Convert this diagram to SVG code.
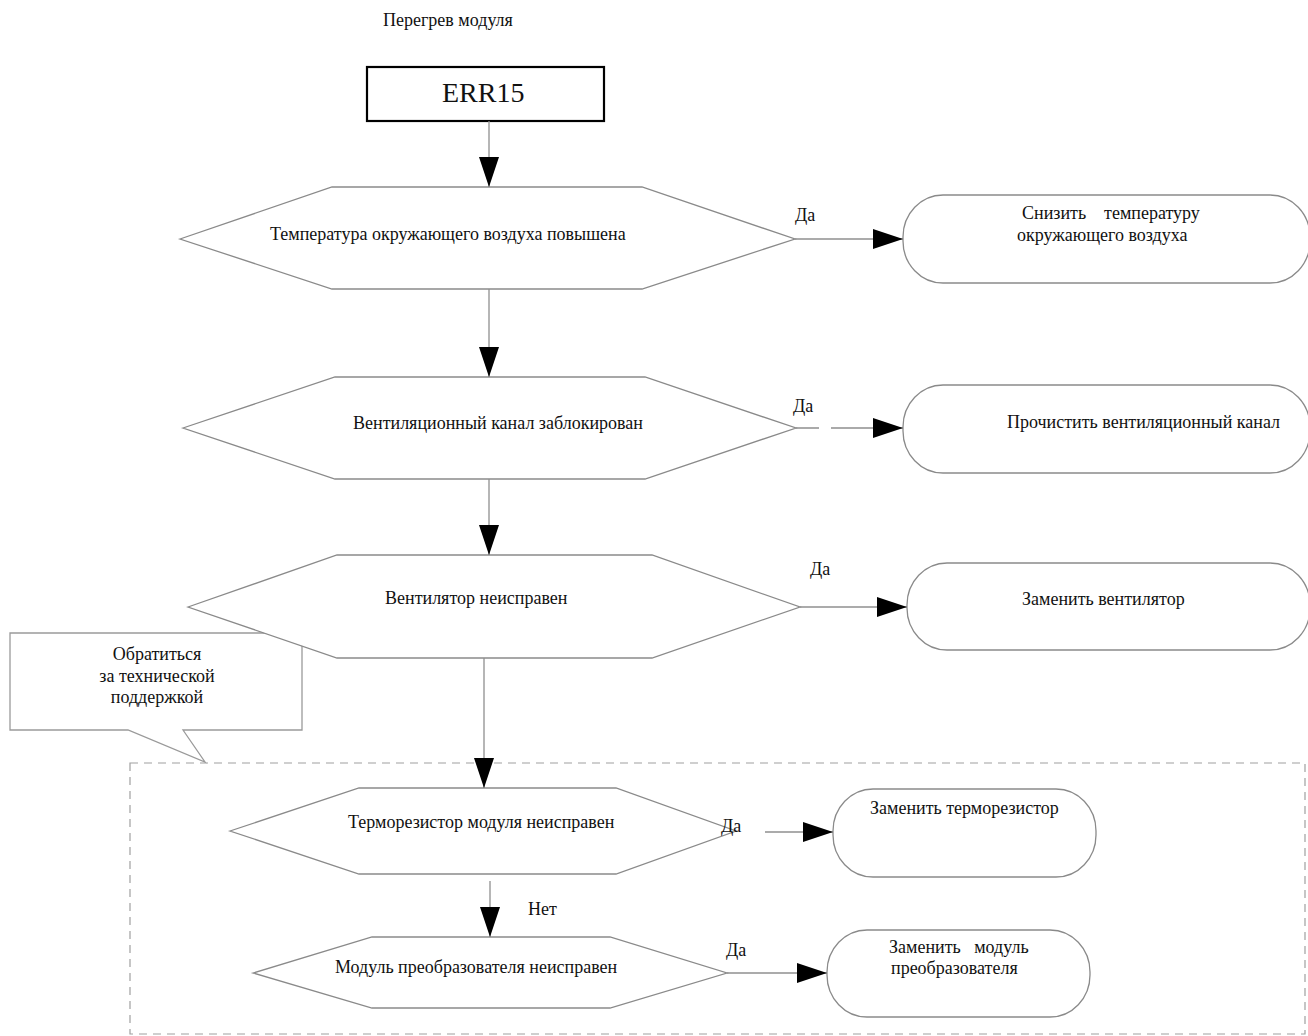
<svg xmlns="http://www.w3.org/2000/svg" width="1308" height="1036" viewBox="0 0 1308 1036">
<style>
  text { font-family: "Liberation Serif", "Times New Roman", serif; font-size: 18px; fill: #111; white-space: pre; }
  .hex { fill: #fff; stroke: #8a8a8a; stroke-width: 1.3; }
  .term { fill: #fff; stroke: #8a8a8a; stroke-width: 1.3; }
  .conn { fill: none; stroke: #8f8f8f; stroke-width: 1.3; marker-end: url(#ah); }
  .callout { fill: #fff; stroke: #9a9a9a; stroke-width: 1.3; }
  .group { fill: none; stroke: #a0a0a0; stroke-width: 1.2; stroke-dasharray: 8 6; }
</style>
<defs>
  <marker id="ah" markerUnits="userSpaceOnUse" viewBox="0 0 30 20" refX="30" refY="10" markerWidth="30" markerHeight="20" orient="auto">
    <path d="M0,0 L30,10 L0,20 Z" fill="#000"/>
  </marker>
</defs>
<rect width="1308" height="1036" fill="#fff"/>

<text id="title" x="383" y="26">Перегрев модуля</text>

<g id="support-group">
  <rect class="group" x="130" y="763" width="1175" height="271"/>
</g>

<g id="callout">
  <polygon class="callout" points="10,633 302,633 302,730 183,730 205,762 128,730 10,730"/>
  <text x="157" y="660" text-anchor="middle">Обратиться</text>
  <text x="157" y="682" text-anchor="middle">за технической</text>
  <text x="157" y="703" text-anchor="middle">поддержкой</text>
</g>

<g id="err15">
  <rect x="367" y="67" width="237" height="54" fill="#fff" stroke="#000" stroke-width="2.2"/>
  <text x="442" y="102" style="font-size:28px">ERR15</text>
</g>

<g id="q1">
  <polygon class="hex" points="180,239 332,187 642,187 795,239 642,289 332,289"/>
  <text x="270" y="240">Температура окружающего воздуха повышена</text>
</g>
<g id="a1">
  <rect class="term" x="903" y="195" width="407" height="88" rx="40" ry="42"/>
  <text x="1022" y="219">Снизить    температуру</text>
  <text x="1017" y="241">окружающего воздуха</text>
</g>

<g id="q2">
  <polygon class="hex" points="183,428 335,377 645,377 796,428 645,479 335,479"/>
  <text x="353" y="429">Вентиляционный канал заблокирован</text>
</g>
<g id="a2">
  <rect class="term" x="903" y="385" width="407" height="88" rx="40" ry="42"/>
  <text x="1007" y="428">Прочистить вентиляционный канал</text>
</g>

<g id="q3">
  <polygon class="hex" points="188,607 337,555 652,555 800,607 652,658 337,658"/>
  <text x="385" y="604">Вентилятор неисправен</text>
</g>
<g id="a3">
  <rect class="term" x="907" y="563" width="403" height="87" rx="40" ry="42"/>
  <text x="1022" y="605">Заменить вентилятор</text>
</g>

<g id="q4">
  <polygon class="hex" points="230,831 359,788 616,788 736,831 616,874 359,874"/>
  <text x="348" y="828">Терморезистор модуля неисправен</text>
</g>
<g id="a4">
  <rect class="term" x="833" y="789" width="263" height="88" rx="40" ry="42"/>
  <text x="870" y="814">Заменить терморезистор</text>
</g>

<g id="q5">
  <polygon class="hex" points="253,973 372,937 610,937 727,973 610,1008 372,1008"/>
  <text x="335" y="973">Модуль преобразователя неисправен</text>
</g>
<g id="a5">
  <rect class="term" x="827" y="930" width="263" height="87" rx="40" ry="42"/>
  <text x="889" y="953">Заменить   модуль</text>
  <text x="891" y="974">преобразователя</text>
</g>

<g id="connectors">
  <path class="conn" d="M489 121 V187"/>
  <path class="conn" d="M795 239 H903"/>
  <path class="conn" d="M489 289 V377"/>
  <path class="conn" d="M796 428 H819 M831 428 H903"/>
  <path class="conn" d="M489 479 V555"/>
  <path class="conn" d="M800 607 H907"/>
  <path class="conn" d="M484 658 V788"/>
  <path class="conn" d="M765 832 H833"/>
  <path class="conn" d="M490 881 V937"/>
  <path class="conn" d="M727 973 H827"/>
  <text x="795" y="221">Да</text>
  <text x="793" y="412">Да</text>
  <text x="810" y="575">Да</text>
  <text x="721" y="832">Да</text>
  <text x="528" y="915">Нет</text>
  <text x="726" y="956">Да</text>
</g>
</svg>
